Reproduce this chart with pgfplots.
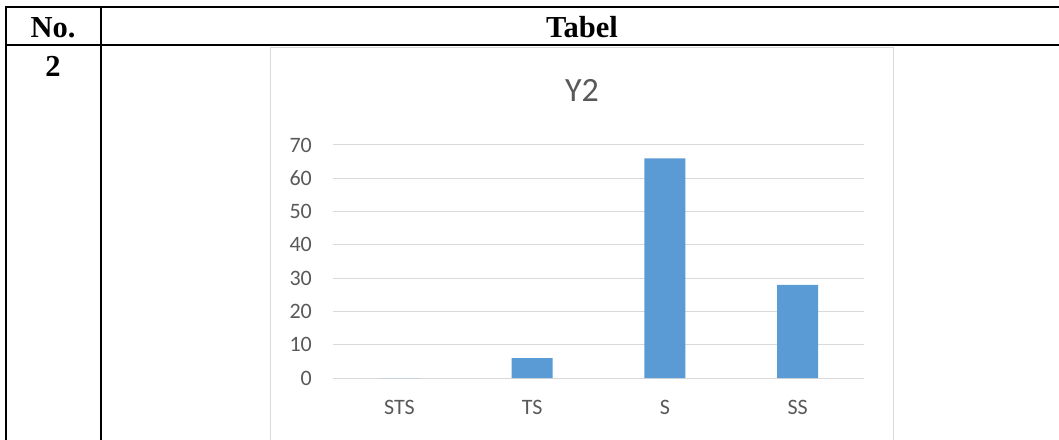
\documentclass[border=0pt]{standalone}
\usepackage{fontspec}
\setmainfont{Liberation Serif}
\newfontfamily\calibri{Carlito}
\usepackage{pgfplots}
\pgfplotsset{compat=1.18}
\definecolor{barblue}{HTML}{5B9BD5}
\definecolor{gridgray}{HTML}{D9D9D9}
\definecolor{labelgray}{HTML}{595959}
\begin{document}
\begin{tikzpicture}
\useasboundingbox (0pt,0pt) rectangle (1059pt,439pt);
\begin{scope}
\clip (0pt,0pt) rectangle (1059pt,439pt);
% chart area frame
\draw[gridgray, line width=1pt] (270.5pt,-10pt) |- (893pt,391.5pt) -- (893pt,-10pt);
% table rules
\draw[line width=2pt] (6pt,-10pt) -- (6pt,431.5pt);
\draw[line width=2pt] (100.5pt,-10pt) -- (100.5pt,431.5pt);
\draw[line width=2pt] (5pt,431.5pt) -- (1070pt,431.5pt);
\draw[line width=2pt] (5pt,393.5pt) -- (1070pt,393.5pt);
\end{scope}
% table text
\node[anchor=base, font=\bfseries\fontsize{30.5}{30.5}\selectfont] at (53pt,401pt) {No.};
\node[anchor=base, font=\bfseries\fontsize{30.5}{30.5}\selectfont] at (582pt,401pt) {Tabel};
\node[anchor=base, font=\bfseries\fontsize{30.5}{30.5}\selectfont] at (53pt,362pt) {2};
% chart title
\node[anchor=base, font=\calibri\fontsize{34}{34}\selectfont, text=labelgray] at (582pt,337pt) {Y2};
\begin{axis}[
  at={(333pt,61pt)}, anchor=south west,
  scale only axis, width=531pt, height=233pt,
  xmin=-0.5, xmax=3.5, ymin=0, ymax=70,
  axis line style={draw=none},
  tick style={draw=none},
  ymajorgrids,
  grid style={gridgray, line width=1pt},
  ytick={0,10,...,70},
  xtick={0,1,2,3},
  xticklabels={STS,TS,S,SS},
  ticklabel style={font=\calibri\fontsize{22}{22}\selectfont, text=labelgray},
  /pgf/number format/assume math mode=true,
  yticklabel style={anchor=east, inner sep=0pt, xshift=-21pt},
  xticklabel style={anchor=base, inner sep=0pt, yshift=-36pt},
]
\addplot[ybar, bar width=41pt, fill=barblue, draw=none]
  coordinates {(0,0) (1,6) (2,66) (3,28)};
\end{axis}
\end{tikzpicture}
\end{document}
